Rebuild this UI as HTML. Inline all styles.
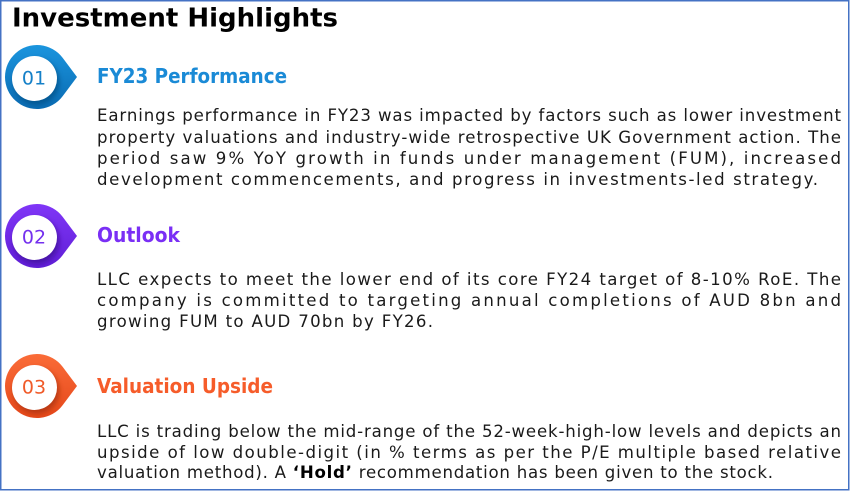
<!DOCTYPE html>
<html>
<head>
<meta charset="utf-8">
<style>
  html, body { margin:0; padding:0; background:#fff; }
  body { width:850px; height:491px; overflow:hidden; }
  svg { display:block; }
  .title { font-family:"DejaVu Sans","Liberation Sans",sans-serif; font-weight:bold; font-size:25.5px; fill:#000; }
  .hd { font-family:"DejaVu Sans","Liberation Sans",sans-serif; font-weight:bold; font-size:20px; }
  .bd { font-family:"DejaVu Sans","Liberation Sans",sans-serif; font-size:16.6px; fill:#1a1a1a; }
  .num { font-family:"DejaVu Sans","Liberation Sans",sans-serif; font-weight:normal; font-size:19px; }
</style>
</head>
<body>
<svg width="850" height="491" viewBox="0 0 850 491" xmlns="http://www.w3.org/2000/svg">
  <defs>
    <filter id="blur" x="-50%" y="-50%" width="200%" height="200%"><feGaussianBlur stdDeviation="2.5"/></filter>
    <linearGradient id="gB" x1="0" y1="0" x2="0" y2="1"><stop offset="0" stop-color="#1b95de"/><stop offset="1" stop-color="#0a6bb2"/></linearGradient>
    <linearGradient id="gP" x1="0" y1="0" x2="0" y2="1"><stop offset="0" stop-color="#8036f7"/><stop offset="1" stop-color="#601fd6"/></linearGradient>
    <linearGradient id="gO" x1="0" y1="0" x2="0" y2="1"><stop offset="0" stop-color="#fa6c38"/><stop offset="1" stop-color="#e5481b"/></linearGradient>
  </defs>

  <rect x="0.75" y="0.75" width="848" height="489" fill="#fff" stroke="#4472c4" stroke-width="1.5"/>

  <text class="title" x="12" y="26.5" textLength="326" lengthAdjust="spacingAndGlyphs">Investment Highlights</text>

  <!-- Icon 1 -->
  <g transform="translate(0,77)">
    <path d="M62.6 -19.2 L77 0 L62.6 19.2 A32 32 0 1 1 62.6 -19.2 Z" fill="url(#gB)"/>
    <circle cx="36.5" cy="5" r="23" fill="#064f86" filter="url(#blur)" opacity="0.7"/>
    <circle cx="34.5" cy="1.5" r="22.5" fill="#fff"/>
    <text class="num" x="34" y="7.5" text-anchor="middle" fill="#1580c8">01</text>
  </g>
  <text class="hd" x="97" y="83" fill="#1a8ad6" textLength="190" lengthAdjust="spacingAndGlyphs">FY23 Performance</text>
  <text class="bd" x="97" y="121" textLength="744" lengthAdjust="spacing">Earnings performance in FY23 was impacted by factors such as lower investment</text>
  <text class="bd" x="97" y="143" textLength="744" lengthAdjust="spacing">property valuations and industry-wide retrospective UK Government action. The</text>
  <text class="bd" x="97" y="164" textLength="744" lengthAdjust="spacing">period saw 9% YoY growth in funds under management (FUM), increased</text>
  <text class="bd" x="97" y="185" textLength="721" lengthAdjust="spacing">development commencements, and progress in investments-led strategy.</text>

  <!-- Icon 2 -->
  <g transform="translate(0,236)">
    <path d="M62.6 -19.2 L77 0 L62.6 19.2 A32 32 0 1 1 62.6 -19.2 Z" fill="url(#gP)"/>
    <circle cx="36.5" cy="5" r="23" fill="#3d0f94" filter="url(#blur)" opacity="0.7"/>
    <circle cx="34.5" cy="1.5" r="22.5" fill="#fff"/>
    <text class="num" x="34" y="7.5" text-anchor="middle" fill="#7430ee">02</text>
  </g>
  <text class="hd" x="97" y="242" fill="#7a2ff5" textLength="83" lengthAdjust="spacingAndGlyphs">Outlook</text>
  <text class="bd" x="97" y="285" textLength="744" lengthAdjust="spacing">LLC expects to meet the lower end of its core FY24 target of 8-10% RoE. The</text>
  <text class="bd" x="97" y="306" textLength="744" lengthAdjust="spacing">company is committed to targeting annual completions of AUD 8bn and</text>
  <text class="bd" x="97" y="327" textLength="336" lengthAdjust="spacing">growing FUM to AUD 70bn by FY26.</text>

  <!-- Icon 3 -->
  <g transform="translate(0,386)">
    <path d="M62.6 -19.2 L77 0 L62.6 19.2 A32 32 0 1 1 62.6 -19.2 Z" fill="url(#gO)"/>
    <circle cx="36.5" cy="5" r="23" fill="#a8300c" filter="url(#blur)" opacity="0.7"/>
    <circle cx="34.5" cy="1.5" r="22.5" fill="#fff"/>
    <text class="num" x="34" y="7.5" text-anchor="middle" fill="#f05a28">03</text>
  </g>
  <text class="hd" x="97" y="393" fill="#f65c2a" textLength="176" lengthAdjust="spacingAndGlyphs">Valuation Upside</text>
  <text class="bd" x="97" y="437" textLength="744" lengthAdjust="spacing">LLC is trading below the mid-range of the 52-week-high-low levels and depicts an</text>
  <text class="bd" x="97" y="458" textLength="744" lengthAdjust="spacing">upside of low double-digit (in % terms as per the P/E multiple based relative</text>
  <text class="bd" x="97" y="478" textLength="676" lengthAdjust="spacing">valuation method). A <tspan font-weight="bold" fill="#000">‘Hold’</tspan> recommendation has been given to the stock.</text>
</svg>
</body>
</html>
